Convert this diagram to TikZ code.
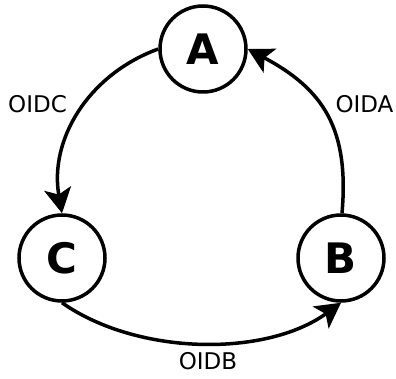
\documentclass[tikz,border=0pt]{standalone}
\usepackage{fontspec}
\setmainfont{DejaVu Sans}
\usetikzlibrary{arrows.meta}
\tikzset{
  vert/.style={circle, draw, line width=3.5pt, minimum size=86pt, inner sep=0pt, font=\fontsize{42}{42}\selectfont\bfseries},
  edge/.style={line width=3.5pt, -{Stealth[length=25pt, width=27pt, inset=6pt]}},
  elabel/.style={font=\fontsize{23}{23}\selectfont, inner sep=0pt}
}
\begin{document}
\begin{tikzpicture}[x=1pt,y=1pt]
\useasboundingbox (0,0) rectangle (396,-379);
\node[vert] (A) at (203,-49) {A};
\node[vert] (C) at (62,-258) {C};
\node[vert] (B) at (341,-258) {B};
\draw[edge] (A.west) to[out=200, in=100, looseness=1.0] (C.north);
\draw[edge] (B.north) ++(1,0) coordinate (bn) (bn) to[out=85, in=-28, looseness=1.15] (A.east);
\draw[edge] (C.south) to[out=-35, in=-144, looseness=0.85] (B.south);
\node[elabel] (lc) at (37.5,-104) {OIDC};
\node[elabel] (la) at (364.5,-104) {OIDA};
\node[elabel] (lb) at (208,-361) {OIDB};
\end{tikzpicture}
\end{document}
